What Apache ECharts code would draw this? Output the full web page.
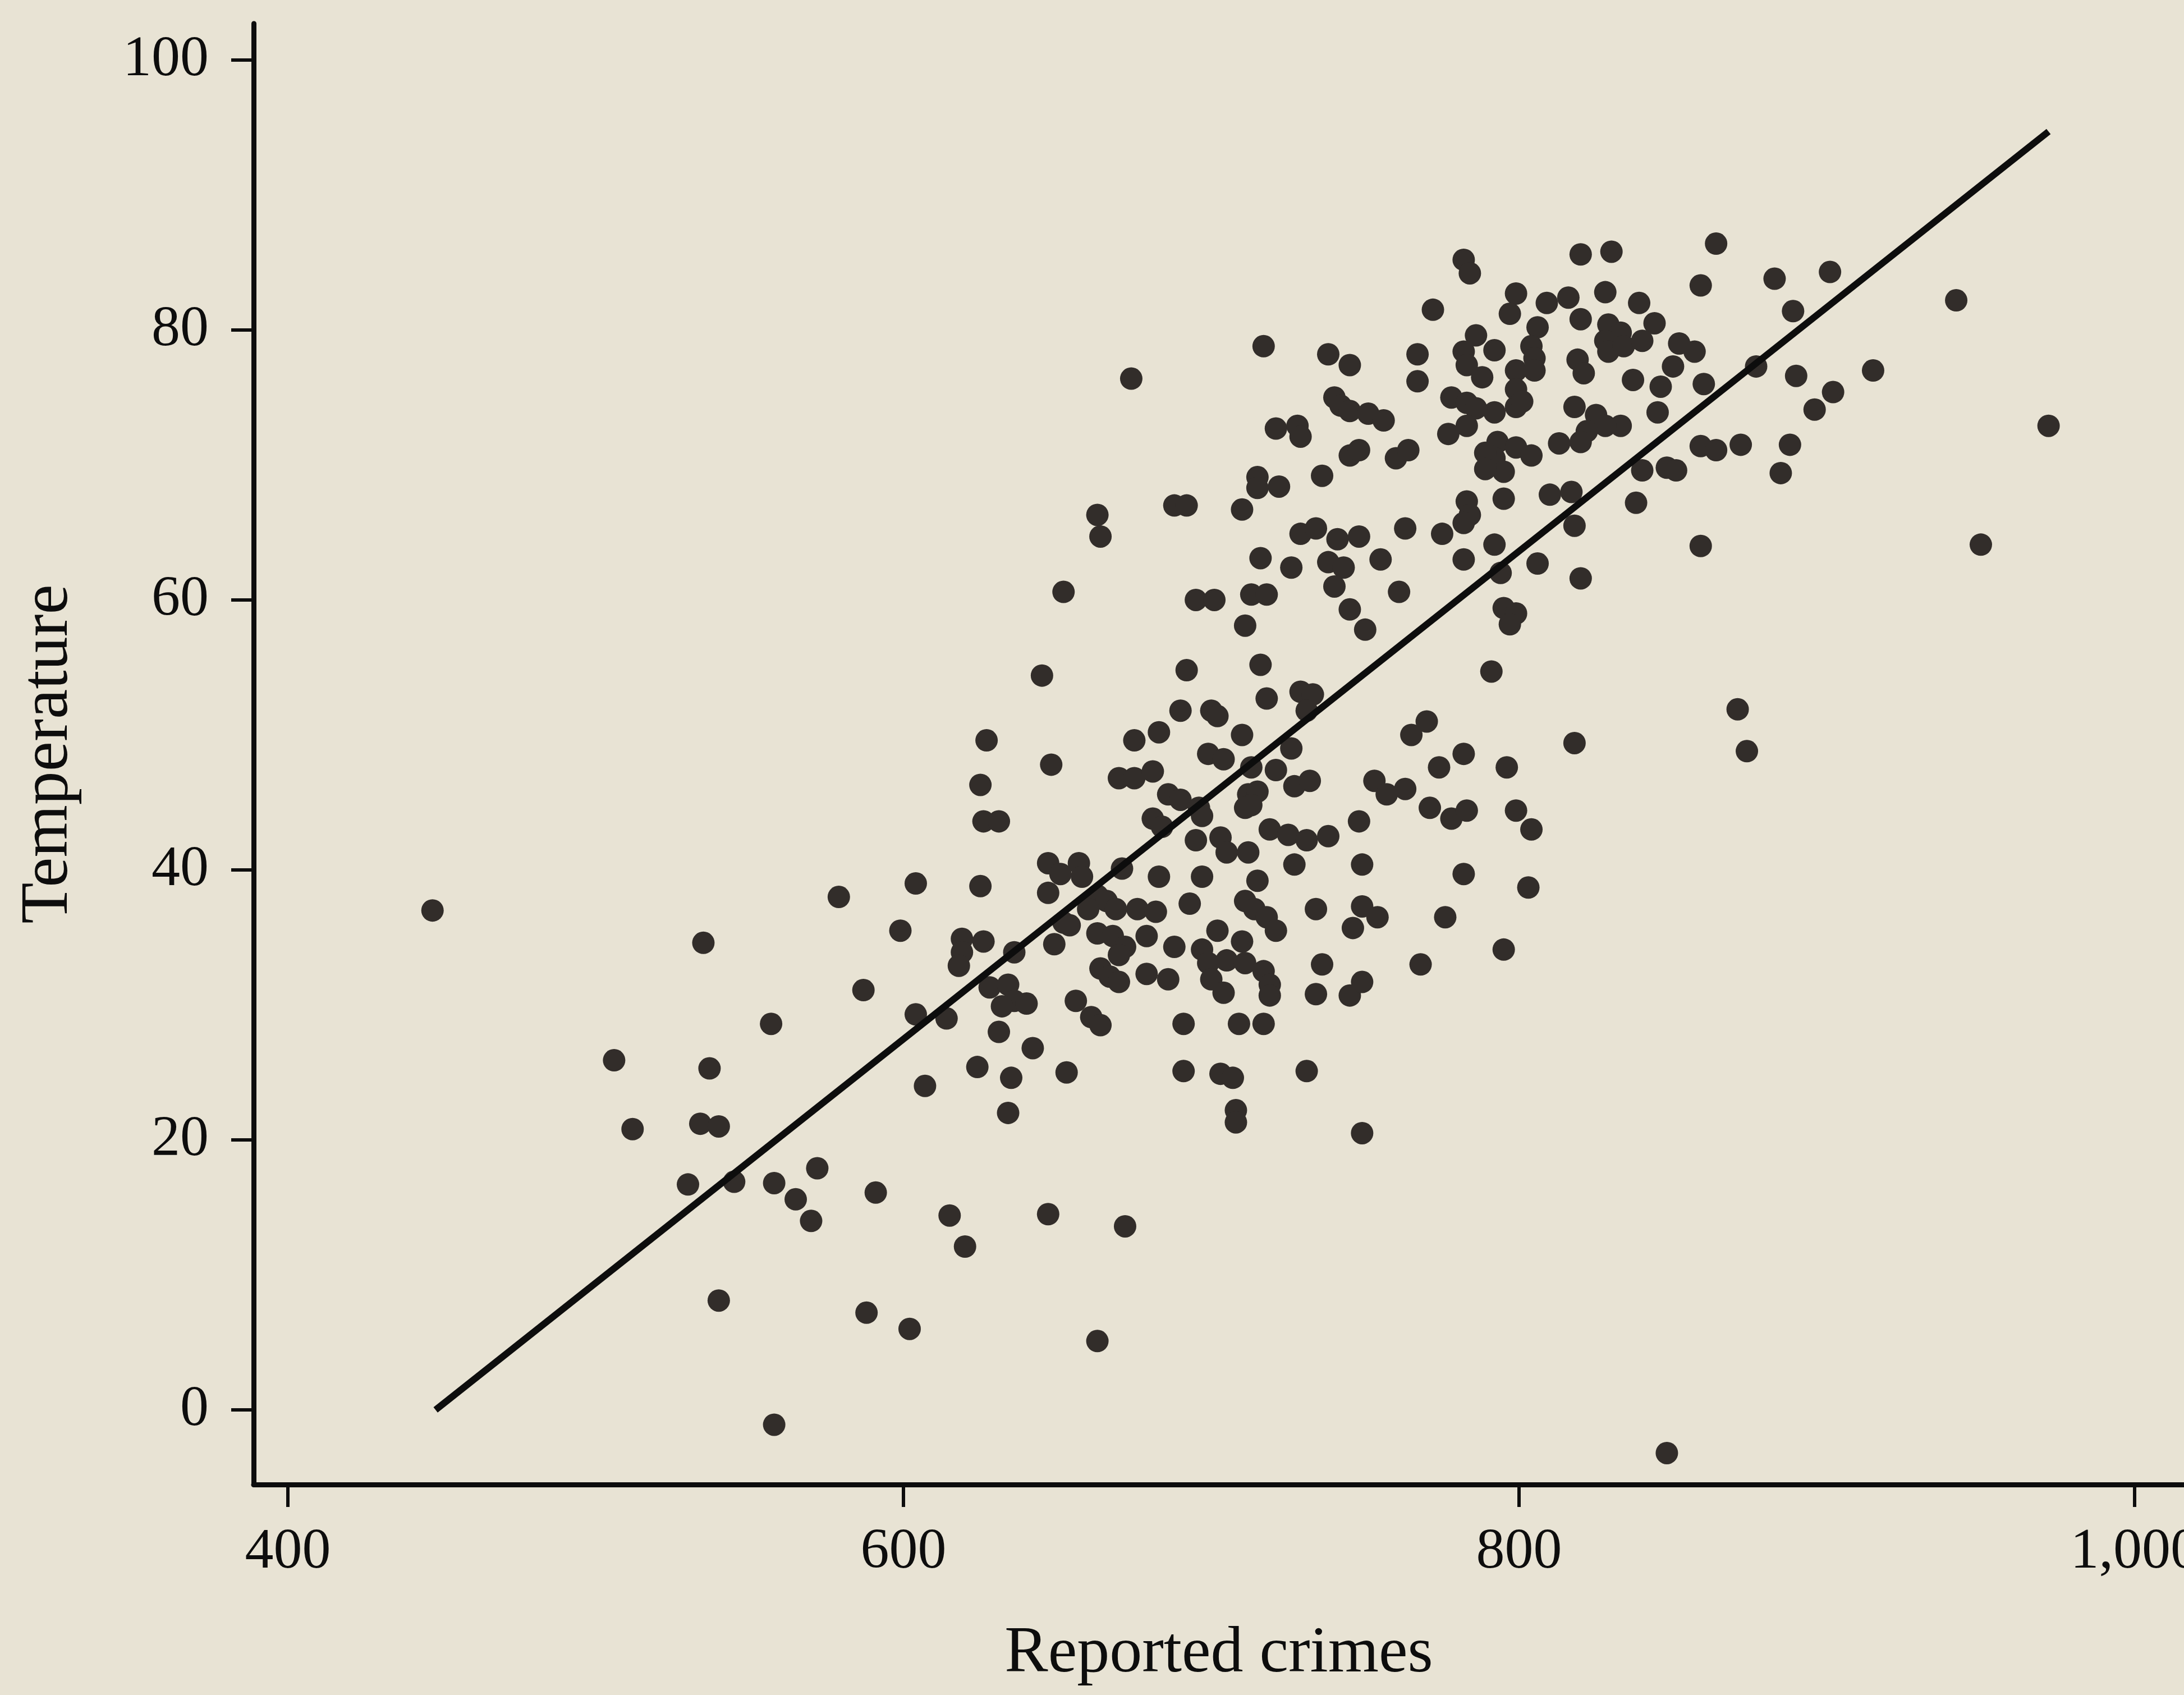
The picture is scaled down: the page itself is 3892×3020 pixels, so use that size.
<!DOCTYPE html>
<html>
<head>
<meta charset="utf-8">
<script src="https://cdn.jsdelivr.net/npm/echarts@6/dist/echarts.min.js"></script>
<style>
  html, body { margin: 0; padding: 0; background: #e8e3d4; }
  #chart { width: 3892px; height: 3020px; }
</style>
</head>
<body>
<div id="chart"></div>
<script>
// Reported crimes (x) and temperature (y) for each point
const crimes = [
  820,830,864,859,883,901,942,799,809,816,828,839,889,797,806,820,829,833,844,792,
  804,805,828,829,834,840,852,857,850,819,821,799,805,837,846,860,877,890,915,902,
  896,799,799,801,792,818,825,833,828,822,845,813,820,793,799,804,792,795,859,864,
  872,888,840,848,851,885,810,817,795,838,818,792,794,806,820,859,950,972,795,799,797,
  782,784,772,786,782,783,788,717,738,745,767,767,674,740,742,745,751,756,778,783,
  786,777,783,721,728,729,745,748,760,764,789,789,715,715,722,736,688,692,663,664,
  710,783,784,782,729,734,741,748,763,775,716,726,738,743,755,782,652,695,701,713,
  718,740,761,745,711,750,
  645,692,716,627,648,625,626,631,625,690,700,702,675,683,670,675,681,710,699,704,
  718,729,733,731,726,713,721,727,732,686,690,696,697,712,715,713,711,681,684,748,
  765,770,782,774,753,757,763,771,778,783,695,703,705,712,719,725,731,738,727,749,
  782,647,651,657,658,671,683,697,715,647,663,666,660,669,676,682,693,711,714,718,
  721,734,749,754,746,776,652,654,663,668,672,679,688,702,710,626,619,619,618,636,
  649,670,664,667,670,679,686,697,699,700,704,705,711,717,719,719,736,768,734,745,
  749,628,634,636,640,632,656,661,664,691,709,717,614,631,642,
  791,871,874,818,796,799,804,803,795,
  447,535,579,604,599,587,604,557,506,537,512,534,540,530,545,558,565,570,572,591,
  540,588,602,558,607,624,635,653,634,691,703,707,708,708,731,749,615,620,647,672,
  663,848
];
const temperature = [
  85.6,85.8,86.4,83.3,83.8,84.3,82.2,82.7,82,82.4,82.8,82,81.4,81.2,80.2,80.8,80.4,79.8,80.5,78.5,
  78.8,77.9,79.2,78.4,78.8,79.2,79,78.4,77.3,77.8,76.8,77,77,76.3,75.8,76,77.3,76.6,77,75.4,
  74.1,75.6,74.3,74.7,73.9,74.3,73.7,72.9,72.9,72.5,73.9,71.6,71.7,71.7,71.3,70.7,70.5,69.5,71.4,71.1,
  71.5,71.5,69.6,69.8,69.6,69.4,67.8,68,67.5,67.2,65.5,64.1,62,62.7,61.6,64,64.1,72.9,59.4,59,58.2,
  85.2,84.2,81.5,79.6,78.4,77.4,76.5,78.8,78.2,77.4,78.2,76.2,76.4,75,74.4,74,73.8,73.3,75,74.6,
  74.2,72.3,72.9,72.7,72.9,72.1,70.7,71.1,70.5,71.1,70.9,69.7,69.1,68.3,68.4,69.2,67,67,66.3,64.7,
  66.7,67.3,66.3,65.7,64.9,65.3,64.5,64.7,65.3,64.9,63.1,62.4,62.8,62.4,63,63,60.6,60,60,60.4,
  60.4,61,60.6,59.3,58.1,57.8,
  54.4,54.8,55.2,49.6,47.8,46.3,43.6,43.6,38.8,51.8,51.8,51.4,49.6,50.2,46.8,46.8,47.3,50,48.6,48.2,
  52.7,53.2,53,51.8,49,47.6,47.4,46.2,46.6,45.6,45.2,44.6,44,45.6,45.8,44.8,44.6,43.8,43.2,43.6,
  50,51,48.6,47.6,46.6,45.6,46,44.6,43.8,44.4,42.2,42.4,41.3,41.3,43,42.6,42.2,42.5,40.4,40.4,
  39.7,40.5,39.7,40.5,39.5,40.1,39.5,39.5,39.2,38.3,38.1,37.7,37.1,37.1,37.1,36.9,37.5,37.7,37.1,36.5,
  35.5,37.1,37.3,36.5,35.7,36.5,36.1,35.9,35.3,35.1,34.3,35.1,34.3,35.5,34.7,34.7,34.9,33.9,32.9,33.9,
  34.5,33.7,32.7,32.1,31.7,32.3,31.9,34.1,33.1,31.9,30.9,33.3,33.1,32.5,31.5,30.7,33,33,30.8,30.7,
  31.7,31.3,31.5,30.3,30.1,29.9,30.3,29.1,28.5,28.6,28.6,28.6,29,28,26.8,
  54.7,51.9,48.8,49.4,47.6,44.4,43,38.7,34.1,
  37,34.6,38,39,35.5,31.1,29.3,28.6,25.9,25.3,20.8,21.2,21,16.7,16.9,16.8,15.6,14,17.9,16.1,
  8.1,7.2,6,-1.1,24,25.4,24.6,25,22,25.1,24.9,24.6,22.2,21.3,25.1,20.5,14.4,12.1,14.5,13.6,
  5.1,-3.2
];
// Fitted line end points
const fitCrimes = [448, 972];
const fitTemperature = [0, 94.7];
// Tick values
const xTicks = [400, 600, 800, 1000];
const yTicks = [0, 20, 40, 60, 80, 100];

const points = crimes.map((c, i) => [c, temperature[i]]);
const fitLine = fitCrimes.map((c, i) => [c, fitTemperature[i]]);
const serif = 'Liberation Serif';
const ink = '#0d0d0d';

const chart = echarts.init(document.getElementById('chart'), null, { renderer: 'canvas' });
chart.setOption({
  backgroundColor: '#e8e3d4',
  animation: false,
  grid: { left: 452, top: 42, right: 0, bottom: 375, containLabel: false, outerBoundsMode: 'none' },
  xAxis: {
    type: 'value', min: 388.9, max: 1016,
    name: 'Reported crimes', nameLocation: 'middle', nameGap: 245,
    nameTextStyle: { fontFamily: serif, fontSize: 116, color: ink },
    axisLine: { show: true, onZero: false, lineStyle: { color: ink, width: 9 } },
    axisTick: { show: true, customValues: xTicks, length: 40, lineStyle: { color: ink, width: 6 } },
    axisLabel: {
      customValues: xTicks, margin: 70, fontFamily: serif, fontSize: 102, color: ink,
      formatter: v => String(v).replace(/\B(?=(\d{3})+(?!\d))/g, ',')
    },
    splitLine: { show: false }
  },
  yAxis: {
    type: 'value', min: -5.53, max: 102.7,
    name: 'Temperature', nameLocation: 'middle', nameGap: 305,
    nameTextStyle: { fontFamily: serif, fontSize: 120, color: ink },
    axisLine: { show: true, onZero: false, lineStyle: { color: ink, width: 9 } },
    axisTick: { show: true, customValues: yTicks, length: 40, lineStyle: { color: ink, width: 6 } },
    axisLabel: { customValues: yTicks, margin: 80, fontFamily: serif, fontSize: 102, color: ink },
    splitLine: { show: false }
  },
  series: [
    {
      type: 'scatter', data: points, symbol: 'circle', symbolSize: 40,
      itemStyle: { color: '#322d2a', opacity: 1 }, z: 2
    },
    {
      type: 'line', data: fitLine, symbol: 'none', silent: true,
      lineStyle: { color: ink, width: 12 }, z: 3
    }
  ]
});
</script>
</body>
</html>
